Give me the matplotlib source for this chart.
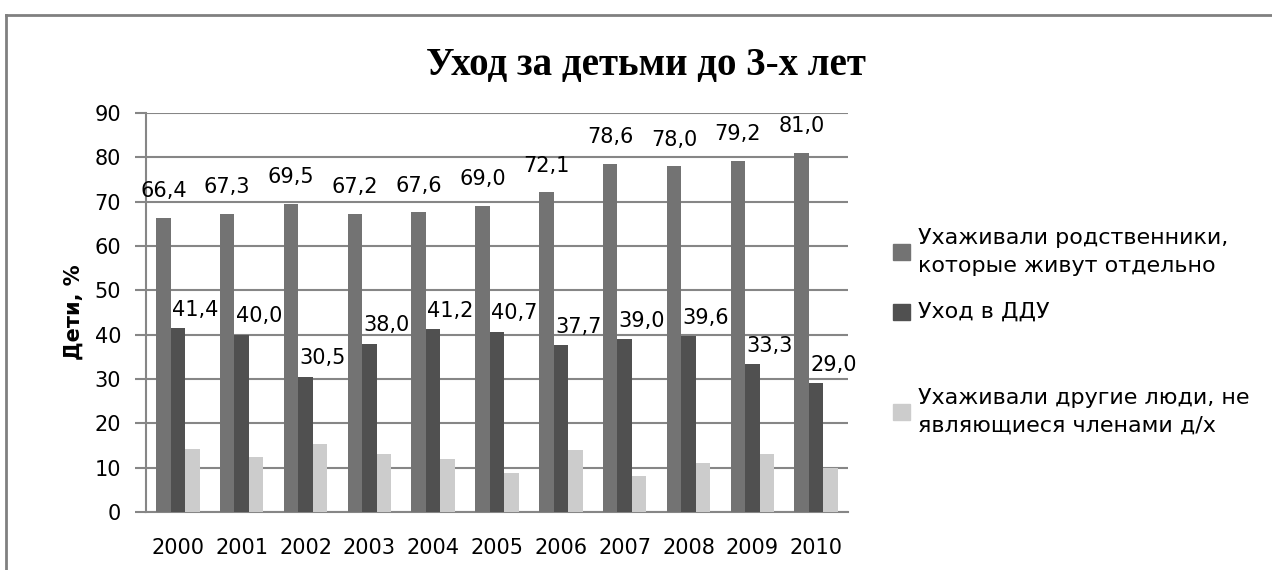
import numpy as np
import matplotlib.pyplot as plt
from matplotlib.patches import Rectangle
from matplotlib.lines import Line2D

# данные
years = ["2000", "2001", "2002", "2003", "2004", "2005", "2006", "2007", "2008", "2009", "2010"]
rodstv = [66.4, 67.3, 69.5, 67.2, 67.6, 69.0, 72.1, 78.6, 78.0, 79.2, 81.0]
ddu = [41.4, 40.0, 30.5, 38.0, 41.2, 40.7, 37.7, 39.0, 39.6, 33.3, 29.0]
drugie = [14.2, 12.4, 15.3, 13.1, 12.0, 8.8, 14.0, 8.1, 11.1, 13.1, 9.9]

labels = ["Ухаживали родственники,\nкоторые живут отдельно",
          "Уход в ДДУ",
          "Ухаживали другие люди, не\nявляющиеся членами д/х"]
colors = ["#737373", "#505050", "#cccccc"]
grid_col = "#868686"

fig = plt.figure(figsize=(12.72, 5.7), dpi=100)
ax = fig.add_axes([146/1272, 1 - 512/570, (848 - 146)/1272, (512 - 113)/570])

x = np.arange(len(years))
w = 0.227
ax.bar(x - w, rodstv, w, color=colors[0], zorder=3)
ax.bar(x, ddu, w, color=colors[1], zorder=3)
ax.bar(x + w, drugie, w, color=colors[2], zorder=3)

def fmt(v):
    return f"{v:.1f}".replace(".", ",")

for i in range(len(years)):
    ax.annotate(fmt(rodstv[i]), (x[i] - w, rodstv[i]), xytext=(0, 12),
                textcoords="offset points", ha="center", va="bottom", fontsize=15, zorder=4)
    ax.annotate(fmt(ddu[i]), (x[i] - w / 2, ddu[i]), xytext=(1, 6),
                textcoords="offset points", ha="left", va="bottom", fontsize=15, zorder=4)

ax.set_xlim(-0.5, len(years) - 0.5)
ax.set_ylim(0, 90)
ax.set_yticks(range(0, 91, 10))
ax.set_xticks(x)
ax.set_xticklabels(years, fontsize=15)
ax.tick_params(axis="y", labelsize=15, length=8, width=1.5, color=grid_col, pad=10)
ax.tick_params(axis="x", length=0, pad=19)
ax.yaxis.grid(True, color=grid_col, linewidth=1.5, zorder=0)
ax.set_axisbelow(True)
for s in ["top", "right"]:
    ax.spines[s].set_visible(False)
for s in ["left", "bottom"]:
    ax.spines[s].set_color(grid_col)
    ax.spines[s].set_linewidth(1.5)

ax.set_ylabel("Дети, %", fontsize=15, fontweight="bold", labelpad=8)

fig.text(646/1272, 1 - 66/570, "Уход за детьми до 3-х лет", ha="center", va="center",
         fontsize=28, fontweight="bold", family="Liberation Serif")

# легенда вручную
leg_y = [252, 312, 412]
for yy, lab, c in zip(leg_y, labels, colors):
    fig.patches.append(Rectangle((893/1272, 1 - (yy + 8)/570), 17/1272, 16/570,
                                 transform=fig.transFigure, color=c))
    fig.text(918/1272, 1 - yy/570, lab, ha="left", va="center", fontsize=16, linespacing=1.5)

# рамка
fig.lines.append(Line2D([6/1272, 1], [1 - 15/570, 1 - 15/570], transform=fig.transFigure,
                        color="#808080", linewidth=2))
fig.lines.append(Line2D([6/1272, 6/1272], [0, 1 - 15/570], transform=fig.transFigure,
                        color="#808080", linewidth=2))

plt.savefig("out.png", dpi=100)
